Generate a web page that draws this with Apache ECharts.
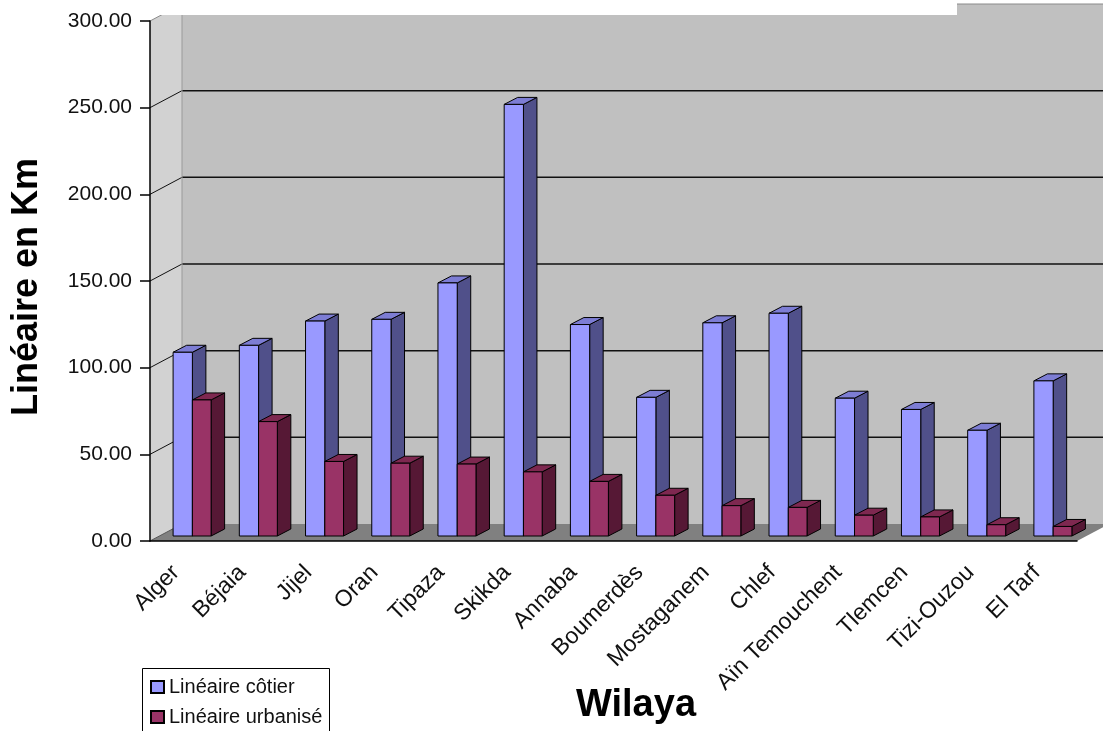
<!DOCTYPE html>
<html>
<head>
<meta charset="utf-8">
<script src="https://cdn.jsdelivr.net/npm/echarts@6/dist/echarts.min.js"></script>
<style>
  html, body { margin: 0; padding: 0; background: #fff; }
  #main { width: 1103px; height: 731px; }
</style>
</head>
<body>
<div id="main"></div>
<script>
var wilayas = ['Alger', 'Béjaia', 'Jijel', 'Oran', 'Tipaza', 'Skikda', 'Annaba', 'Boumerdès',
  'Mostaganem', 'Chlef', 'Aïn Temouchent', 'Tlemcen', 'Tizi-Ouzou', 'El Tarf'];
var lineaireCotier = [106, 110, 124, 125, 146, 249, 122, 80, 123, 128.5, 79.5, 73, 61, 89.5];
var lineaireUrbanise = [78.5, 66, 43, 42, 41.5, 37, 31.5, 23.5, 17.5, 16.5, 12, 11, 6.5, 5.5];
var yTicks = [0, 50, 100, 150, 200, 250, 300];

// back wall sits up and to the right of the front plane
var wallDx = 32, wallDy = -17;
// bars sit a little behind the front axis
var barLift = 5, sideDx = 13.5, sideDy = -7;

function face(points, fill) {
  return {
    type: 'polygon',
    shape: { points: points },
    style: { fill: fill, stroke: '#000', lineWidth: 1 }
  };
}

function wallsRenderer(params, api) {
  var cs = params.coordSys;
  var x0 = cs.x, x1 = cs.x + cs.width;
  var y0 = api.coord([0, yTicks[0]])[1];
  var yTop = api.coord([0, yTicks[yTicks.length - 1]])[1];
  var bx = x0 + wallDx, right = x1 + wallDx + 40;
  var children = [];
  // back wall
  children.push({ type: 'rect', shape: { x: bx, y: yTop + wallDy, width: right - bx, height: y0 - yTop },
    style: { fill: '#c0c0c0' } });
  // left wall
  children.push({ type: 'polygon', shape: { points: [[x0, y0], [x0, yTop], [bx, yTop + wallDy], [bx, y0 + wallDy]] },
    style: { fill: '#d2d2d2' } });
  // floor
  children.push({ type: 'polygon', shape: { points: [[x0, y0], [x1, y0], [x1 + wallDx, y0 + wallDy], [bx, y0 + wallDy]] },
    style: { fill: '#808080' } });
  // gridlines on the back and left walls
  for (var i = 1; i < yTicks.length; i++) {
    var y = api.coord([0, yTicks[i]])[1];
    var last = i === yTicks.length - 1;
    children.push({ type: 'line', shape: { x1: bx, y1: y + wallDy, x2: right, y2: y + wallDy },
      style: { stroke: last ? '#8a8a8a' : '#111', lineWidth: last ? 1 : 1.5 } });
    children.push({ type: 'line', shape: { x1: x0, y1: y, x2: bx, y2: y + wallDy },
      style: { stroke: last ? '#8a8a8a' : '#111', lineWidth: 1 } });
  }
  // corner between the walls
  children.push({ type: 'line', shape: { x1: bx, y1: yTop + wallDy, x2: bx, y2: y0 + wallDy },
    style: { stroke: '#9a9a9a', lineWidth: 1 } });
  children.push({ type: 'line', shape: { x1: x0, y1: y0, x2: bx, y2: y0 + wallDy },
    style: { stroke: '#555', lineWidth: 1 } });
  return { type: 'group', children: children };
}

function barRenderer(span, cFront, cSide, cTop) {
  return function (params, api) {
    var cat = api.value(0);
    var base = api.coord([cat, 0]);
    var peak = api.coord([cat, api.value(1)]);
    var bw = api.size([1, 0])[0];
    var l = base[0] + span[0] * bw, r = base[0] + span[1] * bw;
    var b = base[1] - barLift, t = peak[1] - barLift;
    return {
      type: 'group',
      children: [
        face([[r, b], [r, t], [r + sideDx, t + sideDy], [r + sideDx, b + sideDy]], cSide),
        face([[l, t], [r, t], [r + sideDx, t + sideDy], [l + sideDx, t + sideDy]], cTop),
        face([[l, b], [l, t], [r, t], [r, b]], cFront)
      ]
    };
  };
}

var myChart = echarts.init(document.getElementById('main'));
var option = {
  animation: false,
  textStyle: { fontFamily: 'Liberation Sans, Arial, sans-serif' },
  grid: { left: 150, right: 26, top: 21, bottom: 190 },
  legend: {
    data: ['Linéaire côtier', 'Linéaire urbanisé'],
    orient: 'vertical',
    left: 142,
    top: 668,
    padding: [9, 8, 0, 8],
    itemWidth: 13,
    itemHeight: 12,
    itemGap: 10,
    icon: 'rect',
    textStyle: { fontSize: 20, color: '#111' }
  },
  xAxis: {
    type: 'category',
    data: wilayas,
    z: 10,
    axisLine: { lineStyle: { color: '#000', width: 1.5 } },
    axisTick: { length: 7, lineStyle: { color: '#000', width: 1.5 } },
    axisLabel: { interval: 0, rotate: 45, fontSize: 23, color: '#111', margin: 21, padding: [0, 10, 0, 0] }
  },
  yAxis: {
    type: 'value',
    min: 0,
    max: 300,
    interval: 50,
    z: 10,
    axisLine: { show: true, lineStyle: { color: '#000', width: 1.5 } },
    axisTick: { show: true, length: 10, lineStyle: { color: '#000', width: 1.5 } },
    axisLabel: { fontSize: 21, color: '#111', margin: 18, formatter: function (v) { return v.toFixed(2); } },
    splitLine: { show: false }
  },
  graphic: [
    { type: 'rect', z: 100, shape: { x: 151, y: 0, width: 806, height: 15 }, style: { fill: '#fff' } },
    // legend frame, running off the bottom edge as in the original
    { type: 'rect', z: 1, shape: { x: 142.5, y: 668.5, width: 187, height: 80 },
      style: { fill: '#fff', stroke: '#000', lineWidth: 1 } },
    { type: 'text', x: 27, y: 287, rotation: Math.PI / 2, z: 100,
      style: { text: 'Linéaire en Km', font: 'bold 36px "Liberation Sans", Arial, sans-serif',
        fill: '#000', align: 'center', verticalAlign: 'middle' } },
    { type: 'text', x: 636, y: 706, z: 100,
      style: { text: 'Wilaya', font: 'bold 38px "Liberation Sans", Arial, sans-serif',
        fill: '#000', align: 'center', verticalAlign: 'middle' } }
  ],
  series: [
    {
      name: 'walls',
      type: 'custom',
      silent: true,
      renderItem: wallsRenderer,
      data: [[0, 0]]
    },
    {
      name: 'Linéaire côtier',
      type: 'custom',
      renderItem: barRenderer([-0.151, 0.14], '#9999ff', '#50508a', '#7d7dd4'),
      itemStyle: { color: '#9999ff', borderColor: '#000', borderWidth: 1 },
      data: wilayas.map(function (w, i) { return [i, lineaireCotier[i]]; })
    },
    {
      name: 'Linéaire urbanisé',
      type: 'custom',
      renderItem: barRenderer([0.14, 0.423], '#993366', '#561835', '#7e2850'),
      itemStyle: { color: '#993366', borderColor: '#000', borderWidth: 1 },
      data: wilayas.map(function (w, i) { return [i, lineaireUrbanise[i]]; })
    }
  ]
};
myChart.setOption(option);
</script>
</body>
</html>
